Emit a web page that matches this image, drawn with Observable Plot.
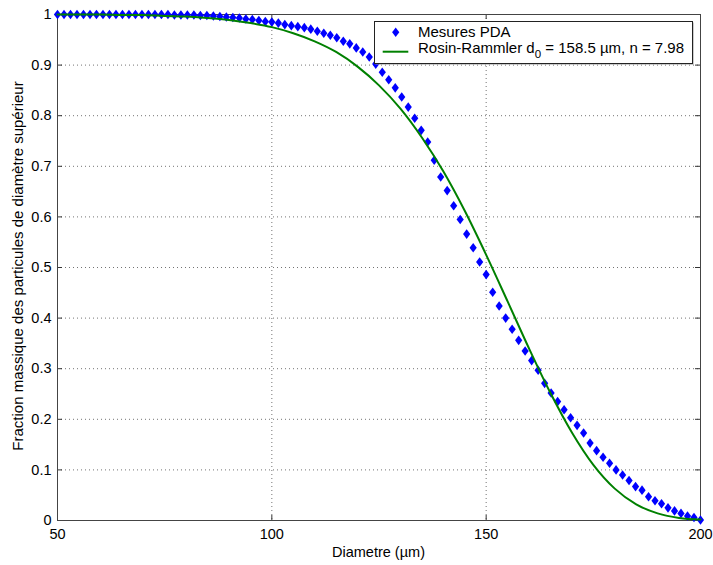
<!DOCTYPE html>
<html><head><meta charset="utf-8">
<script src="https://cdn.jsdelivr.net/npm/d3@7"></script>
<script src="https://cdn.jsdelivr.net/npm/@observablehq/plot@0.6"></script>
<style>body{margin:0;background:#fff} #chart{width:713px;height:565px}</style>
</head><body><div id="chart"></div>
<script>
// PDA measurements (diameter in µm, mass fraction of particles with larger diameter)
const diameters = [50.00,51.52,53.03,54.55,56.06,57.58,59.09,60.61,62.12,63.64,65.15,66.67,68.18,69.70,71.21,72.73,74.24,75.76,77.27,78.79,
80.30,81.82,83.33,84.85,86.36,87.88,89.39,90.91,92.42,93.94,95.45,96.97,98.48,100.00,101.52,103.03,104.55,106.06,107.58,109.09,
110.61,112.12,113.64,115.15,116.67,118.18,119.70,121.21,122.73,124.24,125.76,127.27,128.79,130.30,131.82,133.33,134.85,136.36,137.88,139.39,
140.91,142.42,143.94,145.45,146.97,148.48,150.00,151.52,153.03,154.55,156.06,157.58,159.09,160.61,162.12,163.64,165.15,166.67,168.18,169.70,
171.21,172.73,174.24,175.76,177.27,178.79,180.30,181.82,183.33,184.85,186.36,187.88,189.39,190.91,192.42,193.94,195.45,196.97,198.48,200.00];
const fractions = [1.000,1.000,1.000,1.000,1.000,1.000,1.000,1.000,1.000,1.000,1.000,1.000,1.000,1.000,1.000,1.000,1.000,1.000,0.999,0.999,
0.999,0.999,0.998,0.998,0.997,0.996,0.995,0.994,0.993,0.991,0.990,0.988,0.986,0.985,0.983,0.980,0.978,0.976,0.974,0.971,
0.967,0.963,0.959,0.954,0.947,0.942,0.934,0.926,0.916,0.902,0.886,0.871,0.855,0.837,0.817,0.795,0.771,0.748,0.712,0.679,
0.652,0.622,0.595,0.566,0.539,0.511,0.486,0.451,0.424,0.400,0.378,0.356,0.335,0.316,0.297,0.271,0.252,0.235,0.219,0.203,
0.188,0.173,0.153,0.138,0.125,0.113,0.100,0.090,0.079,0.067,0.060,0.047,0.039,0.033,0.025,0.019,0.014,0.009,0.006,0.001];
// Rosin-Rammler fit curve
const fitDiameters = [50,55,60,65,70,75,80,85,90,95,100,105,110,115,120,125,130,135,140,145,150,155,160,165,170,175,180,185,190,195,200];
const fitFractions = [1.000,1.000,1.000,0.999,0.999,0.997,0.996,0.993,0.989,0.983,0.975,0.963,0.947,0.926,0.897,0.860,0.814,0.757,0.690,0.612,0.525,0.433,0.340,0.252,0.174,0.110,0.063,0.032,0.014,0.005,0.002];

const xTicks = [50,100,150,200];
const yTicks = [0,0.1,0.2,0.3,0.4,0.5,0.6,0.7,0.8,0.9,1];
const yTickLabels = ["0","0.1","0.2","0.3","0.4","0.5","0.6","0.7","0.8","0.9","1"];
const xLabel = "Diametre (µm)";
const yLabel = "Fraction massique des particules de diamètre supérieur";
const legendMeasures = "Mesures PDA";
const legendFitMain = "Rosin-Rammler d";
const legendFitSub = "0";
const legendFitRest = " = 158.5 µm, n = 7.98";

const W = 713, H = 565, mL = 57, mR = 13, mT = 14, mB = 45;
const pw = W - mL - mR, ph = H - mT - mB;
const FONT = "'Liberation Sans', Arial, Helvetica, sans-serif";

const measures = diameters.map((d, i) => ({d, f: fractions[i]}));
const fit = fitDiameters.map((d, i) => ({d, f: fitFractions[i]}));

const diamond = {
  draw(ctx, size) {
    const r = Math.sqrt(size / Math.PI);
    const h = r * 1.2, w = r * 0.9;
    ctx.moveTo(0, -h); ctx.lineTo(w, 0); ctx.lineTo(0, h); ctx.lineTo(-w, 0); ctx.closePath();
  }
};

const chart = Plot.plot({
  width: W, height: H,
  marginLeft: mL, marginRight: mR, marginTop: mT, marginBottom: mB,
  style: {fontFamily: FONT, fontSize: "14.5px", color: "#000", background: "#fff"},
  x: {domain: [50, 200]},
  y: {domain: [0, 1]},
  marks: [
    Plot.gridX(xTicks, {stroke: "#000", strokeOpacity: 0.55, strokeDasharray: "1,3"}),
    Plot.gridY(yTicks, {stroke: "#000", strokeOpacity: 0.55, strokeDasharray: "1,3"}),
    Plot.tickX(xTicks, {x: d => d, insetTop: ph - 5, stroke: "#333"}),
    Plot.tickX(xTicks, {x: d => d, insetBottom: ph - 5, stroke: "#333"}),
    Plot.tickY(yTicks, {y: d => d, insetRight: pw - 5, stroke: "#333"}),
    Plot.tickY(yTicks, {y: d => d, insetLeft: pw - 5, stroke: "#333"}),
    Plot.frame({stroke: "#444"}),
    Plot.axisX(xTicks, {tickSize: 0, tickPadding: 8, label: null, fontSize: 14.5}),
    Plot.axisY(yTicks, {tickSize: 0, tickPadding: 6, label: null, fontSize: 14.5,
      tickFormat: d => yTickLabels[yTicks.indexOf(d)]}),
    Plot.dot(measures, {x: "d", y: "f", symbol: diamond, r: 4, fill: "#0000ff", stroke: "none"}),
    Plot.line(fit, {x: "d", y: "f", stroke: "#008000", strokeWidth: 2, curve: "monotone-x"})
  ]
});
document.getElementById("chart").append(chart);

const svg = d3.select(chart);
svg.append("text").attr("x", mL + pw / 2).attr("y", 552).attr("text-anchor", "middle")
  .attr("dy", "0.35em").attr("font-family", FONT).attr("font-size", 14.5).attr("fill", "#000").text(xLabel);
svg.append("text").attr("transform", "translate(18,266) rotate(-90)").attr("text-anchor", "middle")
  .attr("dy", "0.35em").attr("font-family", FONT).attr("font-size", 15).attr("fill", "#000").text(yLabel);

// legend box
const lg = svg.append("g").attr("font-family", FONT).attr("font-size", 15).attr("fill", "#000")
  .attr("text-anchor", "start");
lg.append("rect").attr("x", 375.5).attr("y", 22.5).attr("width", 318).attr("height", 42).attr("fill", "#9a9a9a");
lg.append("rect").attr("x", 374.5).attr("y", 21.5).attr("width", 318).attr("height", 42)
  .attr("fill", "#fff").attr("stroke", "#222");
const dp = d3.path();
diamond.draw(dp, 16 * Math.PI);
lg.append("path").attr("transform", "translate(395.7,32.3)").attr("d", dp.toString()).attr("fill", "#0000ff");
lg.append("text").attr("x", 418).attr("y", 32).attr("dy", "0.35em").attr("text-anchor", "start").text(legendMeasures);
lg.append("line").attr("x1", 382.7).attr("x2", 408.3).attr("y1", 51.7).attr("y2", 51.7)
  .attr("stroke", "#008000").attr("stroke-width", 2);
const t2 = lg.append("text").attr("x", 418).attr("y", 48).attr("dy", "0.35em").attr("text-anchor", "start");
t2.append("tspan").text(legendFitMain);
t2.append("tspan").attr("font-size", 11.5).attr("dy", "0.4em").text(legendFitSub);
t2.append("tspan").attr("dy", "-0.3em").text(legendFitRest);
</script>
</body></html>
